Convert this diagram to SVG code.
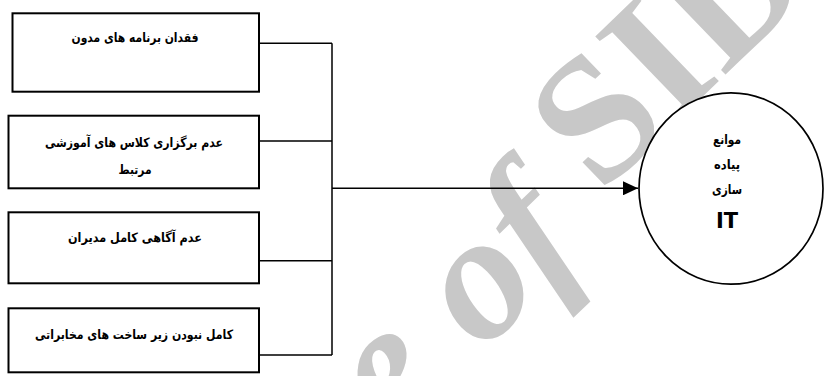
<svg xmlns="http://www.w3.org/2000/svg" width="826" height="376" viewBox="0 0 826 376">
<style>
.wm{font-family:"Liberation Serif","Times New Roman",serif;font-size:180px;fill:#c8c8c8;font-weight:bold}
.box{fill:#fff;stroke:#000;stroke-width:2}
.ln{fill:none;stroke:#000;stroke-width:1.5}
.t{font-family:"DejaVu Sans",sans-serif;font-weight:bold;font-size:13px;fill:#000;text-anchor:middle}
.it{font-family:"DejaVu Sans",sans-serif;font-weight:bold;font-size:21px;fill:#000;text-anchor:middle}
</style>
<defs>
<marker id="ah" markerWidth="16" markerHeight="14" refX="15" refY="7" orient="auto" markerUnits="userSpaceOnUse">
<path d="M0,0 L15,7 L0,14 Z" fill="#000"/>
</marker>
</defs>
<rect width="826" height="376" fill="#fff"/>
<g id="watermark" transform="translate(486,292) rotate(-44)">
<text class="wm" x="-90" y="41" text-anchor="end" font-style="italic">Archive</text>
<text class="wm" x="-45" y="41" font-style="italic">of</text>
<text class="wm" x="150" y="10">SID</text>
</g>
<g id="connectors">
<path class="ln" d="M259,43.3 H332 M259,141 H332 M259,260.7 H332 M259,355 H332 M332,43.3 V355"/>
<path class="ln" d="M332,188.3 H638" marker-end="url(#ah)"/>
</g>
<g id="n1">
<rect class="box" x="12.5" y="13.3" width="246.5" height="78.4"/>
<text class="t" x="135" y="42" direction="rtl" textLength="127" lengthAdjust="spacingAndGlyphs">فقدان برنامه های مدون</text>
</g>
<g id="n2">
<rect class="box" x="8.5" y="115.7" width="250.5" height="72.6"/>
<text class="t" x="134" y="147" direction="rtl" textLength="178" lengthAdjust="spacingAndGlyphs">عدم برگزاری کلاس های آموزشی</text>
<text class="t" x="135" y="174" direction="rtl" textLength="33" lengthAdjust="spacingAndGlyphs">مرتبط</text>
</g>
<g id="n3">
<rect class="box" x="8.5" y="212.3" width="250.5" height="71"/>
<text class="t" x="135" y="242" direction="rtl" textLength="134" lengthAdjust="spacingAndGlyphs">عدم آگاهی کامل مدیران</text>
</g>
<g id="n4">
<rect class="box" x="8.5" y="308.3" width="250.5" height="64"/>
<text class="t" x="134" y="339" direction="rtl" textLength="198" lengthAdjust="spacingAndGlyphs">کامل نبودن زیر ساخت های مخابراتی</text>
</g>
<g id="goal">
<ellipse cx="731" cy="188.5" rx="92" ry="95.7" fill="#fff" stroke="#000" stroke-width="1.7"/>
<text class="t" x="727" y="144" direction="rtl" textLength="28" lengthAdjust="spacingAndGlyphs">موانع</text>
<text class="t" x="727" y="169" direction="rtl" textLength="26" lengthAdjust="spacingAndGlyphs">پیاده</text>
<text class="t" x="727" y="194" direction="rtl" textLength="30" lengthAdjust="spacingAndGlyphs">سازی</text>
<text class="it" x="727" y="228">IT</text>
</g>
</svg>
